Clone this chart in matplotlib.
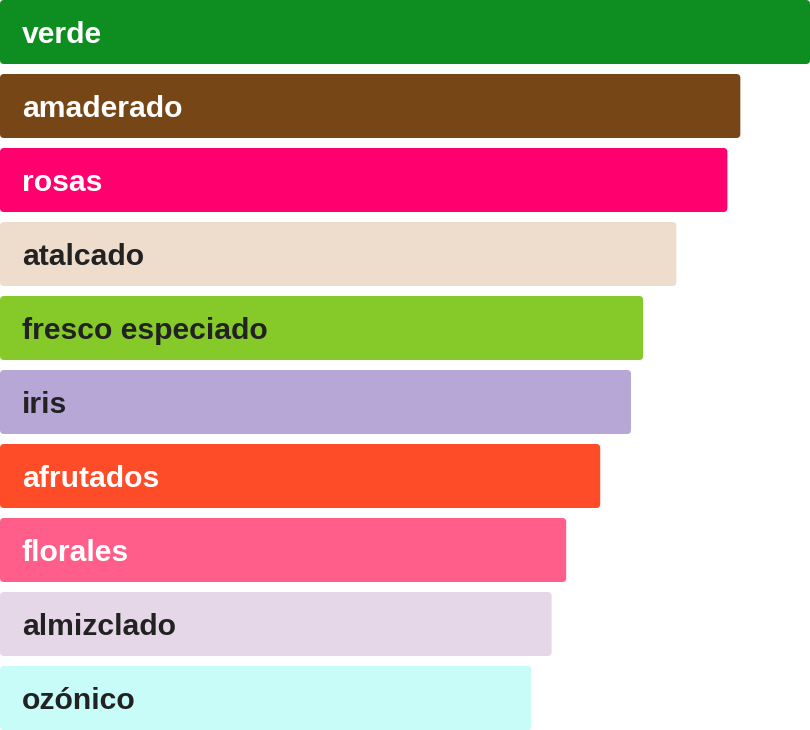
import matplotlib
matplotlib.use("Agg")
import matplotlib.pyplot as plt
from matplotlib.patches import FancyBboxPatch

categories = ["verde", "amaderado", "rosas", "atalcado", "fresco especiado",
              "iris", "afrutados", "florales", "almizclado", "ozónico"]
values = [100.0, 91.4, 89.8, 83.5, 79.4, 77.9, 74.1, 69.9, 68.1, 65.6]
colors = ["#0E8E20", "#774617", "#FF006E", "#EEDDCC", "#86CA2A",
          "#B7A7D6", "#FF4C28", "#FF5E8B", "#E6D7E8", "#C8FCF9"]
text_colors = ["white", "white", "white", "#222222", "#222222",
               "#222222", "white", "white", "#222222", "#222222"]

W, H = 810, 730
fig = plt.figure(figsize=(W / 100, H / 100), dpi=100)
ax = fig.add_axes([0, 0, 1, 1])

bar_h = 64 / 74
n = len(categories)
ypos = list(range(n))
ax.set_xlim(0, max(values))
ax.set_ylim(n - 1 + bar_h / 2, -bar_h / 2)
ax.axis("off")

bars = ax.barh(ypos, values, height=bar_h, color=colors)

# px per data unit
px_x = W / max(values)
px_y = H / (n - 1 + bar_h)
r_px = 4
for b, c in zip(bars, colors):
    b.set_visible(False)
    x0, y0 = b.get_x(), b.get_y()
    w, h = b.get_width(), b.get_height()
    p = FancyBboxPatch((x0, y0), w, h,
                       boxstyle=f"round,pad=0,rounding_size={r_px / px_x}",
                       mutation_aspect=px_x / px_y,
                       facecolor=c, edgecolor="none")
    ax.add_patch(p)

for y, lab, tc in zip(ypos, categories, text_colors):
    ax.text(22 / px_x, y, lab, color=tc, fontsize=21.7, fontweight="bold",
            family=["Liberation Sans", "DejaVu Sans"], va="center_baseline", ha="left")

fig.savefig("out.png", dpi=100)
